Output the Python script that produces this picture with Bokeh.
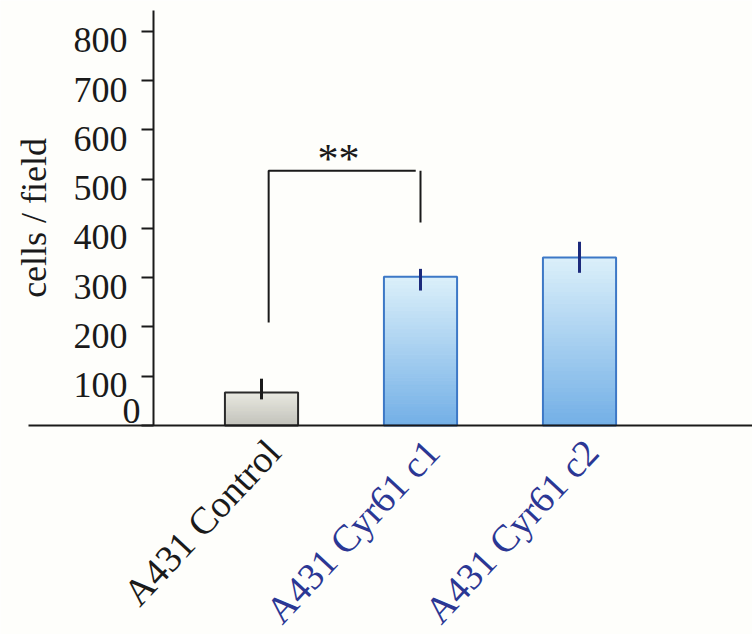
from bokeh.plotting import figure
from bokeh.models import ColumnDataSource, LabelSet, Label, FixedTicker, Range1d
from bokeh.embed import file_html
from bokeh.resources import INLINE
from bokeh.core.properties import value

# ---- data ----
categories = ["A431 Control", "A431 Cyr61 c1", "A431 Cyr61 c2"]
means = [67, 302, 341]
err_upper = [95, 318, 373]
err_lower = [53, 274, 310]
y_ticks = [0, 100, 200, 300, 400, 500, 600, 700, 800]
y_tick_labels = ["", "100", "200", "300", "400", "500", "600", "700", "800"]
bracket_left_low = 209
bracket_right_low = 412
bracket_top = 517
sig_text = "**"
y_label = "cells / field"

# ---- styles ----
BG = "#fefefb"
INK = "#1a1a1a"
label_colors = [INK, "#2b3794", "#2b3794"]
bar_line_colors = ["#2a2a2a", "#3d78c6", "#3d78c6"]
err_colors = [INK, "#1c2a7c", "#1c2a7c"]
grad_top = [(0xe8, 0xe8, 0xe0), (0xda, 0xef, 0xfa), (0xda, 0xef, 0xfa)]
grad_bot = [(0xc2, 0xc2, 0xba), (0x74, 0xb0, 0xe6), (0x74, 0xb0, 0xe6)]
SERIF = "Liberation Serif"

positions = list(range(len(categories)))
bar_width = 0.46
Y_AXIS_AT = -0.679
X_START, X_END = -1.465, 3.088
Y_TOP = 843

p = figure(width=752, height=634, output_backend="svg", toolbar_location=None,
           x_range=Range1d(-1.6415, 3.088), y_range=Range1d(-424.4, 862.9),
           min_border_left=0, min_border_right=0, min_border_top=0,
           min_border_bottom=0)
p.background_fill_color = BG
p.border_fill_color = BG
p.outline_line_color = None
p.xgrid.visible = False
p.ygrid.visible = False

# gradient-filled bars built from slices of each value
N = 40
sl = dict(x=[], bottom=[], top=[], color=[])
for i, m in enumerate(means):
    for k in range(N):
        f = k / (N - 1)
        c = tuple(int(round(grad_bot[i][j] + (grad_top[i][j] - grad_bot[i][j]) * f)) for j in range(3))
        sl["x"].append(positions[i])
        sl["bottom"].append(m * k / N)
        sl["top"].append(m * (k + 1) / N)
        sl["color"].append("#%02x%02x%02x" % c)
p.vbar(x="x", bottom="bottom", top="top", width=bar_width, source=ColumnDataSource(sl),
       fill_color="color", line_color="color", line_width=1)

bars = ColumnDataSource(dict(x=positions, top=means, lc=bar_line_colors,
                             lo=err_lower, hi=err_upper, ec=err_colors,
                             text=categories, tc=label_colors, y0=[0] * len(means)))
p.vbar(x="x", top="top", bottom=0, width=bar_width, source=bars,
       fill_color=None, line_color="lc", line_width=2)
p.segment(x0="x", y0="lo", x1="x", y1="hi", source=bars, line_color="ec", line_width=3)

# significance bracket
bx0 = positions[0] + 0.045
bx1 = positions[1] + 0.0
p.line(x=[bx0, bx0, bx1 - 0.03], y=[bracket_left_low, bracket_top, bracket_top],
       line_color=INK, line_width=2)
p.line(x=[bx1, bx1], y=[bracket_top, bracket_right_low], line_color=INK, line_width=2)
p.text(x=[(bx0 + bx1) / 2], y=[bracket_top], text=[sig_text], text_font=value(SERIF),
       text_font_size="42px", text_align="center", text_baseline="alphabetic",
       text_color=INK, x_offset=-6, y_offset=-12)

# y axis
yax = p.yaxis[0]
yax.fixed_location = Y_AXIS_AT
yax.bounds = (0, Y_TOP)
yax.ticker = FixedTicker(ticks=y_ticks)
yax.major_label_overrides = {t: "" for t in y_ticks}
yax.minor_tick_line_color = None
yax.major_tick_in = 0
yax.major_tick_out = 12
yax.major_tick_line_width = 2
yax.major_tick_line_color = INK
yax.axis_line_width = 2
yax.axis_line_color = INK

p.add_layout(Label(x=Y_AXIS_AT, y=Y_TOP / 2, text=y_label, x_offset=-120,
                   angle=90, angle_units="deg", text_align="center",
                   text_baseline="middle", text_font=SERIF,
                   text_font_size="36px", text_color=INK))

ticks_src = ColumnDataSource(dict(y=y_ticks, text=y_tick_labels,
                                  x=[Y_AXIS_AT] * len(y_ticks)))
p.add_layout(LabelSet(x="x", y="y", text="text", source=ticks_src, x_offset=-26,
                      y_offset=-9, text_align="right", text_baseline="middle",
                      text_font=value(SERIF), text_font_size="36px", text_color=INK))
p.add_layout(Label(x=Y_AXIS_AT, y=0, text="0", x_offset=-13, y_offset=14,
                   text_font=SERIF, text_font_size="36px", text_color=INK,
                   text_align="right", text_baseline="middle"))

# x axis
xax = p.xaxis[0]
xax.fixed_location = 0
xax.bounds = (X_START, X_END)
xax.ticker = FixedTicker(ticks=[])
xax.minor_tick_line_color = None
xax.major_tick_line_color = None
xax.axis_line_width = 2
xax.axis_line_color = INK

p.add_layout(LabelSet(x="x", y="y0", text="text", source=bars, text_color="tc",
                      angle=47, angle_units="deg", text_align="right",
                      text_baseline="middle", x_offset=12, y_offset=-20,
                      text_font=value(SERIF), text_font_size="38px"))

open("out.html", "w").write(file_html(p, INLINE))
